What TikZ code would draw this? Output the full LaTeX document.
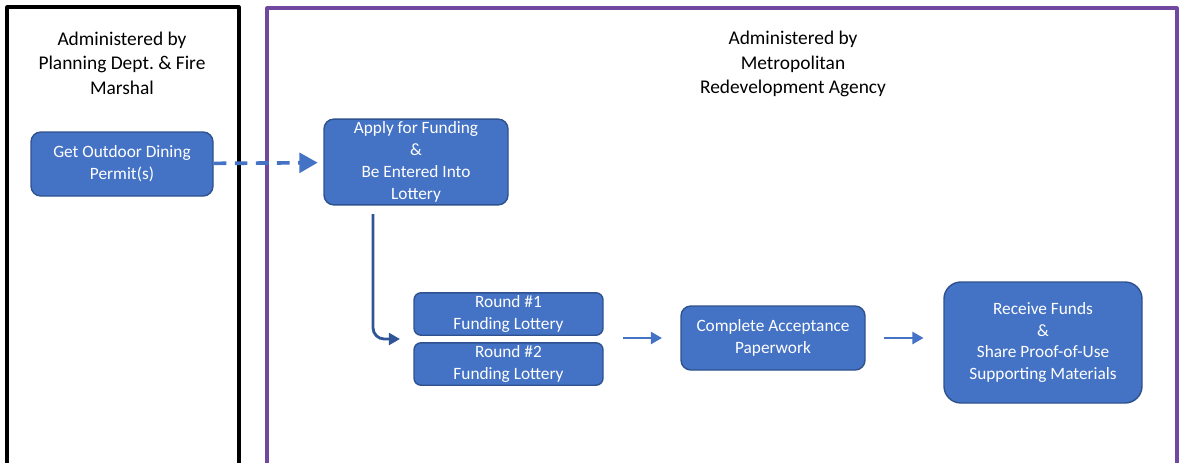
\documentclass[tikz,border=0pt]{standalone}
\usepackage{fontspec}
\setmainfont{Carlito}
\usetikzlibrary{arrows.meta}
\definecolor{boxblue}{RGB}{68,114,196}
\definecolor{boxline}{RGB}{47,82,143}
\definecolor{arrowdark}{RGB}{47,85,151}
\definecolor{agency}{RGB}{112,72,160}
\begin{document}
\begin{tikzpicture}[x=0.025cm,y=-0.025cm, line join=round,
    step box/.style={draw=boxline, line width=1pt, fill=boxblue, rounded corners=7pt,
      text=white, align=center, inner sep=2pt,
      font=\fontsize{12.3}{15.5}\selectfont},
    header/.style={align=center, font=\fontsize{13.8}{17.5}\selectfont},
    flow/.style={-{Triangle[length=8pt,width=8.5pt]}, line width=2pt, draw=boxblue}]
    \useasboundingbox (0,0) rectangle (1180,462);
    % the two offices
    \draw[line width=2.2pt] (7,480) -- (7,7) -- (239,7) -- (239,480);
    \draw[agency, line width=2.2pt] (267,480) -- (267,8) -- (1177,8) -- (1177,480);
    \node[header] (planning) at (122,63) {Administered by\\Planning Dept.\ \& Fire\\Marshal};
    \node[header] (mra) at (793,64) {Administered by\\Metropolitan\\Redevelopment Agency};
    % steps
    \node[step box, minimum width=182*0.025cm, minimum height=64*0.025cm] (permit) at (122,164) {Get Outdoor Dining\\Permit(s)};
    \node[step box, minimum width=184*0.025cm, minimum height=84*0.025cm] (apply) at (416,162) {Apply for Funding\\\&\\Be Entered Into\\Lottery};
    \node[step box, rounded corners=5pt, minimum width=189*0.025cm, minimum height=42*0.025cm] (round1) at (508.5,314) {Round \#1\\Funding Lottery};
    \node[step box, rounded corners=5pt, minimum width=189*0.025cm, minimum height=42*0.025cm] (round2) at (508.5,364) {Round \#2\\Funding Lottery};
    \node[step box, minimum width=184*0.025cm, minimum height=64*0.025cm] (accept) at (773,338) {Complete Acceptance\\Paperwork};
    \node[step box, rounded corners=12pt, minimum width=198*0.025cm, minimum height=121*0.025cm] (funds) at (1043,342.5) {Receive Funds\\\&\\Share Proof-of-Use\\Supporting Materials};
    \coordinate (down) at (373,214);
    \coordinate (lottery) at (400,339);
    % connectors
    \draw[flow, line width=2.6pt, dash pattern=on 9pt off 6pt, -{Triangle[length=13pt,width=14pt]}, shorten >=4pt] (permit) -- (apply);
    \draw[flow, draw=arrowdark, rounded corners=8pt] (down) |- (lottery);
    \draw[flow, shorten <=14pt, shorten >=13pt] (round2.east |- accept.west) -- (accept.west);
    \draw[flow, shorten <=13pt, shorten >=14pt] (accept.east) -- (accept.east -| funds.west);
\end{tikzpicture}
\end{document}
